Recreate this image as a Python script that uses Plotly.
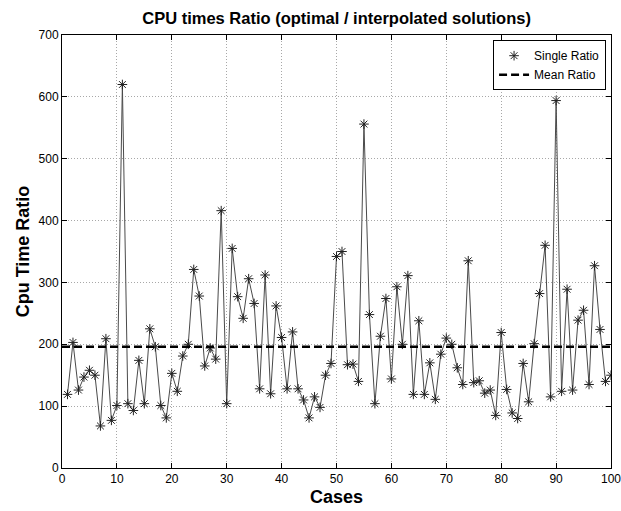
import plotly.graph_objects as go

cases = list(range(1, 101))
ratios = [
    119, 203, 126, 147, 158, 150, 68, 209, 77, 101,
    620, 104, 93, 174, 104, 225, 196, 101, 81, 153,
    124, 181, 200, 321, 278, 165, 194, 176, 416, 104,
    355, 277, 242, 306, 266, 128, 312, 120, 262, 211,
    128, 220, 128, 110, 81, 115, 98, 150, 169, 342,
    350, 167, 168, 140, 556, 248, 104, 213, 274, 144,
    293, 200, 311, 119, 238, 119, 170, 111, 184, 210,
    200, 162, 135, 335, 138, 141, 121, 126, 85, 219,
    127, 89, 80, 169, 107, 201, 282, 360, 115, 594,
    124, 289, 126, 239, 255, 135, 327, 224, 140, 150,
]
mean_ratio = 196
mean_x = [0, 100]

FONT = "Arial, Liberation Sans, sans-serif"

fig = go.Figure()
fig.add_trace(go.Scatter(
    x=cases, y=ratios, mode="lines",
    line=dict(color="#4a4a4a", width=1),
    showlegend=False, hoverinfo="skip"))
fig.add_trace(go.Scatter(
    x=cases, y=ratios, mode="markers", name="Single Ratio",
    marker=dict(symbol="asterisk-open", size=8, color="#222222",
                line=dict(color="#222222", width=1))))
fig.add_trace(go.Scatter(
    x=mean_x, y=[mean_ratio, mean_ratio], mode="lines", name="Mean Ratio",
    line=dict(color="black", width=2.5, dash="8px,4px")))

axis_common = dict(
    showline=True, linecolor="black", linewidth=1, mirror="allticks",
    ticks="inside", ticklen=5, tickcolor="black",
    showgrid=True, gridcolor="#a8a8a8", griddash="1px,2px", gridwidth=1,
    zeroline=False, automargin=False, ticklabeloverflow="allow",
    tickfont=dict(family=FONT, size=12, color="black"),
)

fig.update_layout(
    width=621, height=511,
    margin=dict(l=62, r=10, t=35, b=43),
    paper_bgcolor="white", plot_bgcolor="white",
    title=dict(text="<b>CPU times Ratio (optimal / interpolated solutions)</b>",
               x=0.542, xanchor="center", y=0.965, yanchor="middle",
               font=dict(family=FONT, size=16.5, color="black")),
    xaxis=dict(range=[0, 100], dtick=10, tick0=0,
               title=dict(text="<b>Cases</b>", standoff=4,
                          font=dict(family=FONT, size=18, color="black")),
               **axis_common),
    yaxis=dict(range=[0, 700], dtick=100, tick0=0,
               title=dict(text="<b>Cpu Time Ratio</b>", standoff=4,
                          font=dict(family=FONT, size=18, color="black")),
               **axis_common),
    legend=dict(x=0.991, y=0.988, xanchor="right", yanchor="top",
                bgcolor="white", bordercolor="black", borderwidth=1,
                font=dict(family=FONT, size=12, color="black"),
                tracegroupgap=0, itemwidth=30),
    showlegend=True,
)

fig.write_html("out.html")
